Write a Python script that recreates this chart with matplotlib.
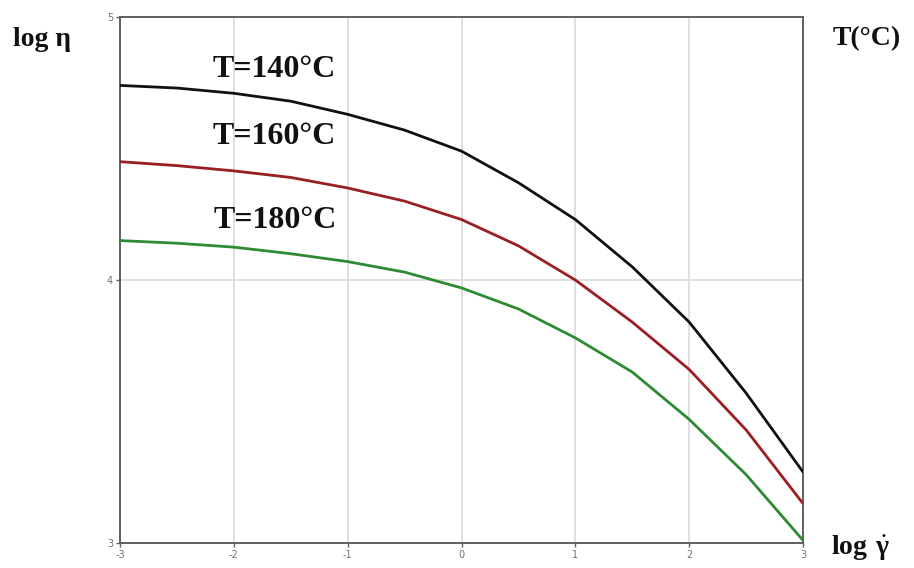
import matplotlib
matplotlib.use("Agg")
import matplotlib.pyplot as plt

plt.rcParams["mathtext.fontset"] = "custom"
plt.rcParams["mathtext.bf"] = "Liberation Serif:bold"
plt.rcParams["mathtext.rm"] = "Liberation Serif"

log_shear = [-3, -2.5, -2, -1.5, -1, -0.5, 0, 0.5, 1, 1.5, 2, 2.5, 3]
eta_140 = [4.74, 4.73, 4.71, 4.68, 4.63, 4.57, 4.49, 4.37, 4.23, 4.05, 3.84, 3.57, 3.27]
eta_160 = [4.45, 4.435, 4.415, 4.39, 4.35, 4.30, 4.23, 4.13, 4.00, 3.84, 3.66, 3.43, 3.15]
eta_180 = [4.15, 4.14, 4.125, 4.10, 4.07, 4.03, 3.97, 3.89, 3.78, 3.65, 3.47, 3.26, 3.01]
series_labels = ["T=140°C", "T=160°C", "T=180°C"]
x_ticks = [-3, -2, -1, 0, 1, 2, 3]
y_ticks = [3, 4, 5]

fig = plt.figure(figsize=(9.14, 5.68), dpi=100)
ax = fig.add_axes([0.1313, 0.044, 0.7473, 0.926])

colors = ["#111111", "#9a1f22", "#2e8b34"]
for ys, c in zip([eta_140, eta_160, eta_180], colors):
    ax.plot(log_shear, ys, color=c, lw=2.0, solid_capstyle="round",
            solid_joinstyle="round", zorder=3)

ax.set_xlim(-3, 3)
ax.set_ylim(3, 5)
ax.set_xticks(x_ticks)
ax.set_yticks(y_ticks)
ax.set_xticklabels([str(v) for v in x_ticks])
ax.set_yticklabels([str(v) for v in y_ticks])
ax.grid(True, color="#dcdcdc", lw=1.3, zorder=0)
for s in ax.spines.values():
    s.set_color("#606060")
    s.set_linewidth(1.4)
ax.tick_params(direction="out", length=3, width=1, colors="#606060",
               labelsize=7, labelcolor="#707070", pad=2)

label_font = dict(family="Liberation Serif", weight="bold", fontsize=23, color="#111111")
label_pos = [(-2.19, 4.772), (-2.19, 4.517), (-2.18, 4.198)]
for (lx, ly), txt in zip(label_pos, series_labels):
    ax.text(lx, ly, txt, ha="left", va="baseline", **label_font)

fig.text(13 / 914, 1 - 46 / 568, "log η", ha="left", va="baseline",
         family="Liberation Serif", weight="bold", fontsize=20, color="#111111")
fig.text(833 / 914, 1 - 45 / 568, "T(°C)", ha="left", va="baseline",
         family="Liberation Serif", weight="bold", fontsize=20, color="#111111")
fig.text(831 / 914, 1 - 555 / 568, r"$\mathbf{log}\ \dot{\mathbf{\gamma}}$", ha="left",
         va="baseline", fontsize=20, color="#111111")

fig.savefig("out.png", dpi=100, facecolor="white")
